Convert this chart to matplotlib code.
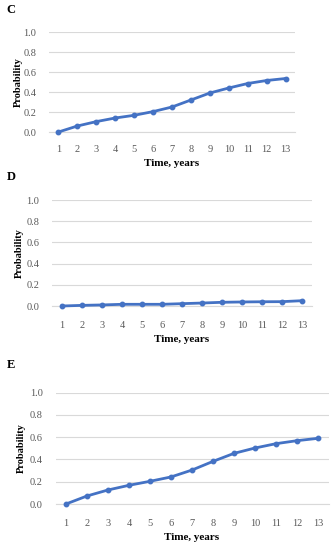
import matplotlib
matplotlib.use("Agg")
import matplotlib.pyplot as plt

years = list(range(1, 14))
prob_c = [0.0, 0.06, 0.104, 0.14, 0.167, 0.204, 0.25, 0.32, 0.39, 0.44, 0.485, 0.515, 0.535]
prob_d = [0.0, 0.006, 0.01, 0.016, 0.016, 0.016, 0.022, 0.028, 0.035, 0.038, 0.04, 0.041, 0.05]
prob_e = [0.0, 0.072, 0.126, 0.168, 0.204, 0.243, 0.305, 0.383, 0.455, 0.503, 0.542, 0.569, 0.59]
yticks = [0.0, 0.2, 0.4, 0.6, 0.8, 1.0]
panel_letters = ["C", "D", "E"]

W, H = 335, 550
fig = plt.figure(figsize=(W / 100, H / 100), dpi=100)
serif = ["Liberation Serif", "DejaVu Serif"]
line_color = "#4472C4"
grid_color = "#D9D9D9"
tick_color = "#595959"

# (left, right, y_top_px for 1.0, y_bottom_px for 0.0, letter_y, ticklabel_y, xlabel_y, ylabel_x)
layouts = [
    (49, 295, 32, 132, 10, 146, 163, 18),
    (52, 312, 200, 306, 177, 322, 339, 19.5),
    (55.5, 328.5, 392.7, 504, 365, 520, 538, 21),
]
series = [prob_c, prob_d, prob_e]

for (l, r, yt, yb, ly, tly, xly, ylx), vals, letter in zip(layouts, series, panel_letters):
    ax = fig.add_axes([l / W, (H - yb) / H, (r - l) / W, (yb - yt) / H])
    ax.plot(years, vals, color=line_color, lw=2, marker="o", ms=3.2, clip_on=False, zorder=3)
    ax.set_xlim(0.5, 13.5)
    ax.set_ylim(0, 1.0)
    ax.set_yticks(yticks)
    ax.set_yticklabels([f"{v:.1f}" for v in yticks], fontfamily=serif, fontsize=7.5, color=tick_color)
    ax.set_xticks(years)
    ax.set_xticklabels([str(y) for y in years], fontfamily=serif, fontsize=7.5, color=tick_color)
    ax.tick_params(length=0)
    ax.tick_params(axis="x", pad=(tly - yb) - 5)
    ax.tick_params(axis="y", pad=9)
    for s in ["top", "right", "left"]:
        ax.spines[s].set_visible(False)
    ax.spines["bottom"].set_color(grid_color)
    ax.spines["bottom"].set_linewidth(0.8)
    ax.grid(axis="y", color=grid_color, lw=0.8)
    ax.set_axisbelow(True)
    ax.set_ylabel("Probability", fontfamily=serif, fontsize=7.5, fontweight="bold", va="center")
    ax.yaxis.set_label_coords(ylx / W, 1 - (0.5 * (yt + yb)) / H, transform=fig.transFigure)
    ax.set_xlabel("Time, years", fontfamily=serif, fontsize=8, fontweight="bold", va="center")
    ax.xaxis.set_label_coords((0.5 * (l + r)) / W, 1 - xly / H, transform=fig.transFigure)
    fig.text(11 / W, 1 - ly / H, letter, fontfamily=serif, fontsize=9, fontweight="bold",
             ha="center", va="center")

fig.savefig("out.png", dpi=100)
